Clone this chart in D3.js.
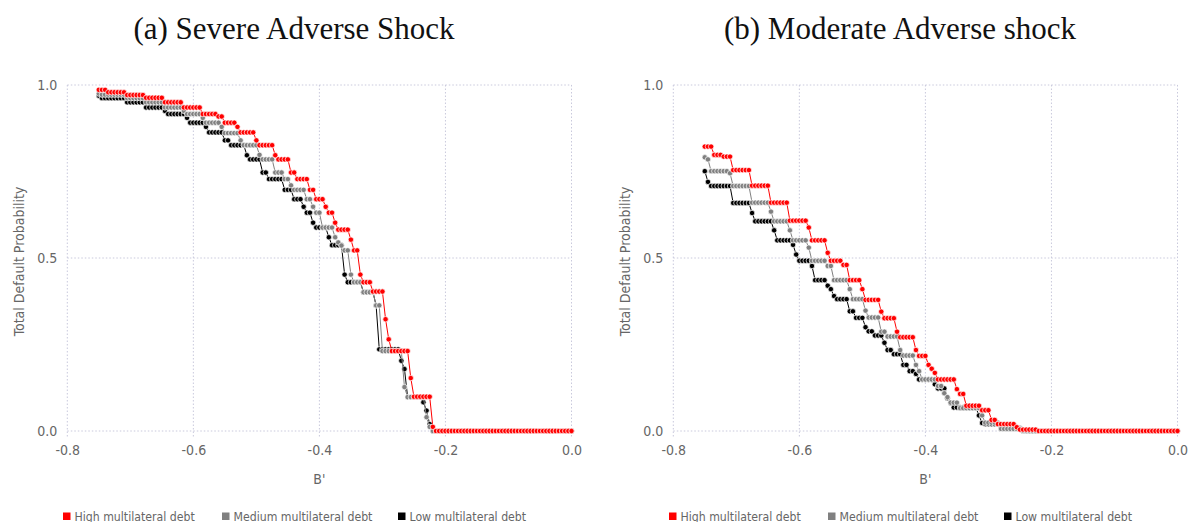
<!DOCTYPE html>
<html>
<head>
<meta charset="utf-8">
<script src="https://cdn.jsdelivr.net/npm/d3@7"></script>
<style>
  body { margin: 0; background: #fff; }
  svg { display: block; }
</style>
</head>
<body>
<svg id="chart" width="1188" height="522"></svg>
<script>
// Grid of next-period debt choices B'
const bGrid = [
  -0.750,-0.745,-0.740,-0.735,-0.730,-0.725,-0.720,-0.715,-0.710,-0.705,
  -0.700,-0.695,-0.690,-0.685,-0.680,-0.675,-0.670,-0.665,-0.660,-0.655,
  -0.650,-0.645,-0.640,-0.635,-0.630,-0.625,-0.620,-0.615,-0.610,-0.605,
  -0.600,-0.595,-0.590,-0.585,-0.580,-0.575,-0.570,-0.565,-0.560,-0.555,
  -0.550,-0.545,-0.540,-0.535,-0.530,-0.525,-0.520,-0.515,-0.510,-0.505,
  -0.500,-0.495,-0.490,-0.485,-0.480,-0.475,-0.470,-0.465,-0.460,-0.455,
  -0.450,-0.445,-0.440,-0.435,-0.430,-0.425,-0.420,-0.415,-0.410,-0.405,
  -0.400,-0.395,-0.390,-0.385,-0.380,-0.375,-0.370,-0.365,-0.360,-0.355,
  -0.350,-0.345,-0.340,-0.335,-0.330,-0.325,-0.320,-0.315,-0.310,-0.305,
  -0.300,-0.295,-0.290,-0.285,-0.280,-0.275,-0.270,-0.265,-0.260,-0.255,
  -0.250,-0.245,-0.240,-0.235,-0.230,-0.225,-0.220,-0.215,-0.210,-0.205,
  -0.200,-0.195,-0.190,-0.185,-0.180,-0.175,-0.170,-0.165,-0.160,-0.155,
  -0.150,-0.145,-0.140,-0.135,-0.130,-0.125,-0.120,-0.115,-0.110,-0.105,
  -0.100,-0.095,-0.090,-0.085,-0.080,-0.075,-0.070,-0.065,-0.060,-0.055,
  -0.050,-0.045,-0.040,-0.035,-0.030,-0.025,-0.020,-0.015,-0.010,-0.005,
  0.000
];

// (a) Severe adverse shock: total default probability by multilateral debt level
const severeHigh = [
  .986,.986,.986,.979,.979,.979,.979,.979,.979,.971,
  .971,.971,.971,.971,.971,.963,.963,.963,.963,.963,
  .963,.950,.950,.950,.950,.950,.950,.935,.935,.935,
  .935,.935,.935,.916,.916,.916,.916,.916,.909,.909,
  .891,.891,.891,.891,.879,.863,.863,.863,.863,.863,
  .840,.826,.826,.826,.826,.826,.797,.785,.785,.785,
  .785,.747,.747,.728,.728,.728,.728,.697,.697,.670,
  .670,.670,.648,.631,.631,.602,.582,.582,.582,.582,
  .553,.522,.522,.452,.430,.430,.430,.403,.403,.403,
  .403,.323,.265,.231,.231,.231,.231,.231,.231,.153,
  .099,.099,.099,.099,.099,.099,.012,0,0,0,
  0,0,0,0,0,0,0,0,0,0,
  0,0,0,0,0,0,0,0,0,0,
  0,0,0,0,0,0,0,0,0,0,
  0,0,0,0,0,0,0,0,0,0,
  0
];
const severeMedium = [
  .975,.972,.972,.972,.972,.972,.972,.972,.972,.962,
  .962,.962,.962,.962,.962,.950,.950,.950,.950,.950,
  .950,.935,.935,.935,.935,.935,.935,.925,.916,.916,
  .916,.916,.916,.905,.891,.891,.891,.891,.891,.879,
  .861,.861,.861,.861,.861,.840,.826,.826,.826,.826,
  .826,.798,.785,.785,.785,.785,.747,.747,.747,.728,
  .728,.710,.697,.697,.697,.697,.670,.670,.648,.631,
  .631,.588,.588,.588,.588,.560,.545,.536,.522,.522,
  .452,.430,.430,.430,.401,.401,.401,.401,.363,.363,
  .231,.231,.231,.231,.231,.231,.231,.127,.098,.098,
  .098,.098,.098,.098,.040,.012,0,0,0,0,
  0,0,0,0,0,0,0,0,0,0,
  0,0,0,0,0,0,0,0,0,0,
  0,0,0,0,0,0,0,0,0,0,
  0,0,0,0,0,0,0,0,0,0,
  0
];
const severeLow = [
  .969,.962,.962,.962,.962,.962,.962,.962,.962,.950,
  .950,.950,.950,.950,.950,.935,.935,.935,.935,.935,
  .935,.925,.916,.916,.916,.916,.916,.916,.905,.891,
  .891,.891,.891,.891,.879,.863,.863,.863,.863,.863,
  .840,.840,.826,.826,.826,.826,.826,.797,.785,.785,
  .785,.785,.747,.747,.728,.728,.728,.728,.728,.697,
  .697,.697,.670,.670,.670,.648,.631,.631,.602,.588,
  .588,.588,.588,.560,.537,.537,.537,.537,.452,.430,
  .430,.430,.430,.430,.401,.401,.401,.401,.363,.236,
  .236,.236,.236,.236,.236,.236,.203,.179,.098,.098,
  .098,.098,.098,.083,.059,.020,0,0,0,0,
  0,0,0,0,0,0,0,0,0,0,
  0,0,0,0,0,0,0,0,0,0,
  0,0,0,0,0,0,0,0,0,0,
  0,0,0,0,0,0,0,0,0,0,
  0
];

// (b) Moderate adverse shock
const moderateHigh = [
  .822,.822,.822,.798,.798,.798,.793,.793,.793,.754,
  .754,.754,.754,.754,.754,.709,.709,.709,.709,.709,
  .709,.660,.660,.660,.660,.660,.660,.608,.608,.608,
  .608,.608,.608,.588,.551,.551,.551,.551,.551,.515,
  .492,.492,.492,.492,.480,.480,.436,.436,.436,.436,
  .410,.379,.379,.379,.379,.379,.345,.326,.326,.326,
  .326,.287,.271,.271,.271,.271,.271,.234,.217,.217,
  .217,.191,.180,.168,.149,.149,.149,.149,.149,.149,
  .121,.107,.107,.073,.073,.073,.073,.073,.060,.060,
  .060,.032,.032,.020,.020,.020,.020,.020,.020,.011,
  .004,.004,.004,.004,.004,.004,0,0,0,0,
  0,0,0,0,0,0,0,0,0,0,
  0,0,0,0,0,0,0,0,0,0,
  0,0,0,0,0,0,0,0,0,0,
  0,0,0,0,0,0,0,0,0,0,
  0
];
const moderateMedium = [
  .791,.785,.751,.751,.751,.751,.751,.751,.745,.708,
  .708,.708,.708,.708,.708,.660,.660,.660,.660,.660,
  .660,.634,.606,.606,.606,.606,.606,.580,.551,.551,
  .551,.551,.551,.530,.492,.492,.492,.492,.492,.477,
  .477,.436,.436,.436,.436,.436,.410,.381,.381,.381,
  .381,.348,.328,.328,.328,.328,.287,.287,.273,.273,
  .273,.273,.234,.218,.218,.218,.218,.191,.173,.149,
  .149,.149,.149,.149,.130,.130,.109,.098,.082,.082,
  .082,.066,.066,.066,.066,.066,.066,.066,.045,.024,
  .024,.024,.024,.024,.006,.006,.006,.006,.006,.006,
  .006,0,0,0,0,0,0,0,0,0,
  0,0,0,0,0,0,0,0,0,0,
  0,0,0,0,0,0,0,0,0,0,
  0,0,0,0,0,0,0,0,0,0,
  0,0,0,0,0,0,0,0,0,0,
  0
];
const moderateLow = [
  .751,.720,.708,.708,.708,.708,.708,.708,.708,.659,
  .659,.659,.659,.659,.659,.630,.606,.606,.606,.606,
  .606,.606,.580,.551,.551,.551,.551,.551,.538,.510,
  .492,.492,.492,.492,.477,.436,.436,.436,.436,.420,
  .410,.390,.381,.381,.381,.381,.346,.346,.327,.327,
  .327,.300,.288,.288,.276,.276,.276,.255,.234,.234,
  .222,.222,.222,.191,.191,.173,.173,.165,.149,.149,
  .149,.149,.149,.135,.123,.123,.123,.095,.081,.068,
  .068,.068,.068,.068,.068,.068,.068,.045,.023,.020,
  .020,.020,.020,.020,.008,.008,.008,.008,.008,.008,
  .008,0,0,0,0,0,0,0,0,0,
  0,0,0,0,0,0,0,0,0,0,
  0,0,0,0,0,0,0,0,0,0,
  0,0,0,0,0,0,0,0,0,0,
  0,0,0,0,0,0,0,0,0,0,
  0
];

const xTicks = [-0.8, -0.6, -0.4, -0.2, 0.0];
const yTicks = [0.0, 0.5, 1.0];
const seriesNames = ["High multilateral debt", "Medium multilateral debt", "Low multilateral debt"];
const seriesColors = ["#ff0000", "#808080", "#000000"];
const panelTitles = ["(a) Severe Adverse Shock", "(b) Moderate Adverse shock"];
const panelSeries = [
  [severeHigh, severeMedium, severeLow],
  [moderateHigh, moderateMedium, moderateLow]
];

// Layout
const panels = [
  { left: 67.3, right: 571.5, titleX: 294, yTitleX: 18.5, legendX: [63, 222, 398] },
  { left: 673.3, right: 1177.5, titleX: 900, yTitleX: 624.5, legendX: [669, 828, 1004] }
];
const plotTop = 85, plotZero = 431, plotBottom = 438;
const tickFont = "'DejaVu Sans Condensed', 'DejaVu Sans', sans-serif";
const textGrey = "#666";
const gridColor = "#c9c9dc";

const svg = d3.select("#chart");
svg.append("rect").attr("width", 1188).attr("height", 522).attr("fill", "#fff");

panels.forEach((p, k) => {
  const g = svg.append("g");
  const x = d3.scaleLinear().domain([-0.8, 0]).range([p.left, p.right]);
  const y = d3.scaleLinear().domain([0, 1]).range([plotZero, plotTop]);

  // dotted grid
  g.append("g").selectAll("line").data(xTicks).join("line")
    .attr("x1", d => x(d)).attr("x2", d => x(d))
    .attr("y1", plotTop).attr("y2", plotBottom)
    .attr("stroke", gridColor).attr("stroke-width", 1)
    .attr("stroke-dasharray", "1.5,2");
  g.append("g").selectAll("line").data(yTicks).join("line")
    .attr("x1", p.left).attr("x2", p.right)
    .attr("y1", d => y(d)).attr("y2", d => y(d))
    .attr("stroke", gridColor).attr("stroke-width", 1)
    .attr("stroke-dasharray", "1.5,2");

  // axes
  const fmt = d => d.toFixed(1);
  const xAxis = g.append("g").attr("transform", `translate(0,${plotZero})`)
    .call(d3.axisBottom(x).tickValues(xTicks).tickFormat(fmt).tickSize(0).tickPadding(14));
  const yAxis = g.append("g").attr("transform", `translate(${p.left},0)`)
    .call(d3.axisLeft(y).tickValues(yTicks).tickFormat(fmt).tickSize(0).tickPadding(10));
  [xAxis, yAxis].forEach(a => {
    a.select(".domain").remove();
    a.selectAll("text").attr("font-family", tickFont).attr("font-size", 14).attr("fill", textGrey);
  });

  // axis titles
  g.append("text")
    .attr("x", (p.left + p.right) / 2).attr("y", 484)
    .attr("text-anchor", "middle")
    .attr("font-family", tickFont).attr("font-size", 14).attr("fill", textGrey)
    .text("B'");
  g.append("text")
    .attr("transform", `translate(${p.yTitleX},${(plotTop + plotBottom) / 2}) rotate(-90)`)
    .attr("text-anchor", "middle").attr("dominant-baseline", "central")
    .attr("font-family", tickFont).attr("font-size", 14).attr("fill", textGrey)
    .text("Total Default Probability");

  // panel title
  g.append("text")
    .attr("x", p.titleX).attr("y", 39)
    .attr("text-anchor", "middle")
    .attr("font-family", "'Liberation Serif', 'DejaVu Serif', serif")
    .attr("font-size", 31).attr("fill", "#111")
    .text(panelTitles[k]);

  // series: low first so high sits on top
  const line = d3.line().x((d, i) => x(bGrid[i])).y(d => y(d));
  [2, 1, 0].forEach(s => {
    const vals = panelSeries[k][s];
    g.append("path").datum(vals)
      .attr("d", line).attr("fill", "none")
      .attr("stroke", seriesColors[s]).attr("stroke-width", 1);
    g.append("g").selectAll("circle").data(vals).join("circle")
      .attr("cx", (d, i) => x(bGrid[i])).attr("cy", d => y(d))
      .attr("r", 2.7)
      .attr("fill", seriesColors[s])
      .attr("stroke", "#fff").attr("stroke-width", 0.7);
  });

  // legend
  const lg = g.append("g");
  seriesNames.forEach((name, s) => {
    const lx = p.legendX[s];
    lg.append("rect").attr("x", lx).attr("y", 512.5).attr("width", 7.5).attr("height", 7.5)
      .attr("fill", seriesColors[s]);
    lg.append("text").attr("x", lx + 11.5).attr("y", 520.5)
      .attr("font-family", tickFont).attr("font-size", 12.2).attr("fill", textGrey)
      .text(name);
  });
});
</script>
</body>
</html>
